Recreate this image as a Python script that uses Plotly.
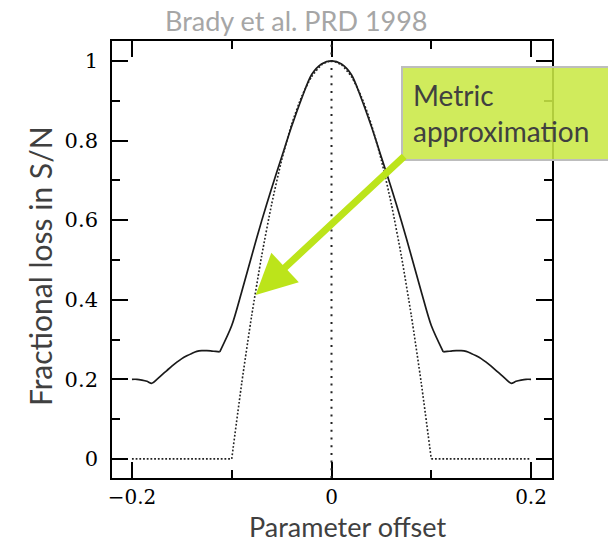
import plotly.graph_objects as go

# Exact (solid) fractional loss curve
lobe_left_x = [-0.200, -0.195, -0.190, -0.185, -0.180, -0.175, -0.170, -0.165, -0.160, -0.155, -0.150, -0.145, -0.140, -0.135, -0.130, -0.125, -0.120, -0.116, -0.112]
lobe_left_y = [0.200, 0.200, 0.198, 0.195, 0.190, 0.200, 0.211, 0.222, 0.233, 0.243, 0.252, 0.259, 0.265, 0.270, 0.272, 0.272, 0.271, 0.270, 0.269]
center_x = [-0.112, -0.100, -0.090, -0.080, -0.070, -0.060, -0.050, -0.040, -0.030, -0.020, -0.010, 0.000,
            0.010, 0.020, 0.030, 0.040, 0.050, 0.060, 0.070, 0.080, 0.090, 0.100, 0.112]
center_y = [0.269, 0.335, 0.420, 0.510, 0.598, 0.680, 0.758, 0.835, 0.905, 0.965, 0.992, 1.000,
            0.992, 0.965, 0.905, 0.835, 0.758, 0.680, 0.598, 0.510, 0.420, 0.335, 0.269]
lobe_right_x = [0.112, 0.116, 0.120, 0.125, 0.130, 0.135, 0.140, 0.145, 0.150, 0.155, 0.160, 0.165, 0.170, 0.175, 0.180, 0.185, 0.190, 0.195, 0.200]
lobe_right_y = [0.269, 0.270, 0.271, 0.272, 0.272, 0.270, 0.265, 0.259, 0.252, 0.243, 0.233, 0.222, 0.211, 0.200, 0.190, 0.195, 0.198, 0.200, 0.200]

# Metric approximation (dotted)
metric_x = [-0.100, -0.090, -0.080, -0.070, -0.060, -0.050, -0.040, -0.030, -0.020, -0.010, 0.000,
            0.010, 0.020, 0.030, 0.040, 0.050, 0.060, 0.070, 0.080, 0.090, 0.100]
metric_y = [0.000, 0.190, 0.360, 0.510, 0.640, 0.750, 0.840, 0.910, 0.960, 0.990, 1.000,
            0.990, 0.960, 0.910, 0.840, 0.750, 0.640, 0.510, 0.360, 0.190, 0.000]
flat_left_x = [-0.200, -0.100]
flat_right_x = [0.100, 0.200]
flat_y = [0.0, 0.0]

x_tickvals = [-0.2, 0, 0.2]
x_ticktext = ["−0.2", "0", "0.2"]
y_tickvals = [0, 0.2, 0.4, 0.6, 0.8, 1]
y_ticktext = ["0", "0.2", "0.4", "0.6", "0.8", "1"]

W, H = 608, 543
ML, MR, MT, MB = 112, 56, 41, 65
PW, PH = W - ML - MR, H - MT - MB


def px(xp):
    return (xp - ML) / PW


def py(yp):
    return (H - MB - yp) / PH


fig = go.Figure()

solid = dict(color="#1a1a1a", width=1.7)
fig.add_trace(go.Scatter(x=lobe_left_x, y=lobe_left_y, mode="lines", line=dict(shape="spline", smoothing=0.8, **solid), hoverinfo="skip"))
fig.add_trace(go.Scatter(x=center_x, y=center_y, mode="lines", line=dict(shape="spline", smoothing=0.8, **solid), hoverinfo="skip"))
fig.add_trace(go.Scatter(x=lobe_right_x, y=lobe_right_y, mode="lines", line=dict(shape="spline", smoothing=0.8, **solid), hoverinfo="skip"))

dotted = dict(color="#222222", width=1.6, dash="1.8px,1.9px")
fig.add_trace(go.Scatter(x=metric_x, y=metric_y, mode="lines", line=dict(shape="spline", smoothing=0.6, **dotted), hoverinfo="skip"))
fig.add_trace(go.Scatter(x=flat_left_x, y=flat_y, mode="lines", line=dotted, hoverinfo="skip"))
fig.add_trace(go.Scatter(x=flat_right_x, y=flat_y, mode="lines", line=dotted, hoverinfo="skip"))

# vertical dotted line at zero offset
fig.add_shape(type="line", xref="x", yref="paper", x0=0, x1=0, y0=0, y1=1,
              line=dict(color="#222222", width=2, dash="2px,5.7px"))

axis_common = dict(
    showgrid=False, zeroline=False, showline=True, linecolor="black", linewidth=1.6,
    mirror="allticks", ticks="inside", tickcolor="black", tickwidth=1.6, ticklen=16,
)

fig.update_xaxes(range=[-0.22, 0.221], tickmode="array", tickvals=x_tickvals, ticktext=x_ticktext,
                 ticklabelstandoff=0, tickfont=dict(family="DejaVu Serif", size=20, color="black"),
                 minor=dict(tickmode="array", tickvals=[-0.1, 0.1], ticklen=8, tickcolor="black", tickwidth=1.6, ticks="inside"),
                 **axis_common)
fig.update_yaxes(range=[-0.048, 1.05], tickmode="array", tickvals=y_tickvals, ticktext=y_ticktext,
                 ticklabelstandoff=8, tickfont=dict(family="DejaVu Serif", size=21, color="black"),
                 minor=dict(tickmode="array", tickvals=[0.1, 0.3, 0.5, 0.7, 0.9], ticklen=8, tickcolor="black", tickwidth=1.6, ticks="inside"),
                 **axis_common)

title_font = "Lato"
fig.add_annotation(text="Parameter offset", xref="paper", yref="paper", x=px(347), y=py(526),
                   xanchor="center", yanchor="middle",
                   showarrow=False, font=dict(family=title_font, size=27, color="#404040"))
fig.add_annotation(text="Fractional loss in S/N", xref="paper", yref="paper", x=px(40), y=py(266),
                   xanchor="center", yanchor="middle",
                   textangle=-90, showarrow=False, font=dict(family=title_font, size=30, color="#404040"))
fig.add_annotation(text="Brady et al. PRD 1998", xref="paper", yref="paper", x=px(296), y=py(21),
                   xanchor="center", yanchor="middle",
                   showarrow=False, font=dict(family=title_font, size=27, color="#a6a6a6"))

# green call-out box
fig.add_shape(type="rect", xref="paper", yref="paper", x0=px(402), x1=px(615), y0=py(160), y1=py(67),
              fillcolor="rgba(202,232,70,0.88)", line=dict(color="#bdbdbd", width=2), layer="above")
fig.add_annotation(text="Metric<br>approximation", xref="paper", yref="paper", x=px(411), y=py(76),
                   xanchor="left", yanchor="top", align="left", showarrow=False,
                   font=dict(family=title_font, size=28, color="#404040"))

# arrow
fig.add_annotation(text="", x=-0.076, y=0.412, xref="x", yref="y", ax=150, ay=-140,
                   showarrow=True, arrowhead=2, arrowsize=1.15, arrowwidth=7, arrowcolor="#bce41a",
                   standoff=0)

fig.update_layout(
    width=W, height=H, margin=dict(l=ML, r=MR, t=MT, b=MB),
    paper_bgcolor="white", plot_bgcolor="white", showlegend=False,
)

fig.write_html("out.html")
